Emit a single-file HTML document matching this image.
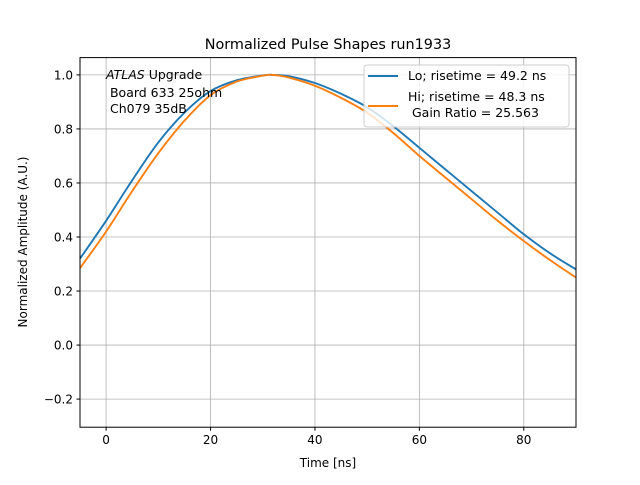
<!DOCTYPE html>
<html><head><meta charset="utf-8"><style>
body{margin:0;background:#fff}
svg{font-family:"DejaVu Sans","Liberation Sans",sans-serif}
text{white-space:pre}
</style></head><body>
<svg id="chart" width="640" height="480" viewBox="0 0 640 480">
<rect width="640" height="480" fill="#fff"/>
<text x="328" y="49" font-size="14.4" text-anchor="middle">Normalized Pulse Shapes run1933</text>
<g id="grid"></g>
<g id="ticks"></g>
<g id="series"></g>
<rect x="80" y="57.6" width="496" height="369.6" fill="none" stroke="#000" stroke-width="1"/>
<text x="328" y="467" font-size="12" text-anchor="middle">Time [ns]</text>
<text transform="translate(27,242) rotate(-90)" font-size="12" text-anchor="middle">Normalized Amplitude (A.U.)</text>
<g font-size="12.5">
<text x="106" y="79" xml:space="preserve"><tspan font-style="italic">ATLAS</tspan> Upgrade</text>
<text x="106" y="97" xml:space="preserve"> Board 633 25ohm</text>
<text x="106" y="113" xml:space="preserve"> Ch079 35dB</text>
</g>
<g>
<rect x="364" y="65" width="205" height="62" rx="3" fill="#fff" fill-opacity="0.8" stroke="#ccc"/>
<line x1="368" y1="76" x2="398" y2="76" stroke="#1f77b4" stroke-width="2"/>
<text x="408" y="80" font-size="12.5">Lo; risetime = 49.2 ns</text>
<line x1="368" y1="106" x2="398" y2="106" stroke="#ff7f0e" stroke-width="2"/>
<text x="408" y="101" font-size="12.5">Hi; risetime = 48.3 ns</text>
<text x="408" y="117" font-size="12.5" xml:space="preserve"> Gain Ratio = 25.563</text>
</g>
</svg>
<script>
const timeNs=[-5,0,5,10,15,20,25,30,32,35,40,45,50,55,60,65,70,75,80,85,90];
const loValues=[0.32,0.46,0.61,0.75,0.86,0.94,0.98,0.998,1.0,0.995,0.97,0.93,0.88,0.81,0.73,0.65,0.57,0.49,0.41,0.34,0.28];
const hiValues=[0.285,0.42,0.57,0.71,0.83,0.925,0.975,0.997,1.0,0.99,0.96,0.915,0.86,0.785,0.70,0.62,0.54,0.46,0.385,0.315,0.25];
const xTicks=[0,20,40,60,80];
const yTicks=[-0.2,0.0,0.2,0.4,0.6,0.8,1.0];
const yTickLabels=["\u22120.2","0.0","0.2","0.4","0.6","0.8","1.0"];
const X0=80,X1=576,Y0=57.6,Y1=427.2,xmin=-5,xmax=90,ymin=-0.304,ymax=1.064;
const sx=v=>X0+(v-xmin)/(xmax-xmin)*(X1-X0);
const sy=v=>Y1-(v-ymin)/(ymax-ymin)*(Y1-Y0);
const NS="http://www.w3.org/2000/svg";
const grid=document.getElementById('grid'),ticks=document.getElementById('ticks'),series=document.getElementById('series');
function mk(tag,attrs,parent){const e=document.createElementNS(NS,tag);for(const k in attrs)e.setAttribute(k,attrs[k]);parent.appendChild(e);return e;}
xTicks.forEach(t=>{
 const g=mk('line',{x1:sx(t),x2:sx(t),y1:Y0,y2:Y1,stroke:'#b0b0b0','stroke-width':0.8},grid);
 
 
 mk('line',{x1:sx(t),x2:sx(t),y1:Y1,y2:Y1+3.5,stroke:'#000'},ticks);
 const l=mk('text',{x:sx(t),y:Y1+17,'font-size':12,'text-anchor':'middle'},ticks);
 l.textContent=t;
 
 
});
yTicks.forEach((t,i)=>{
 const g=mk('line',{x1:X0,x2:X1,y1:sy(t),y2:sy(t),stroke:'#b0b0b0','stroke-width':0.8},grid);
 
 
 mk('line',{x1:X0-3.5,x2:X0,y1:sy(t),y2:sy(t),stroke:'#000'},ticks);
 const l=mk('text',{x:X0-7,y:sy(t)+4.5,'font-size':12,'text-anchor':'end'},ticks);
 l.textContent=yTickLabels[i];
 
 
});
function line(vals,color,name){
 const P=timeNs.map((t,i)=>[sx(t),sy(vals[i])]);
 let d='M'+P[0][0].toFixed(1)+','+P[0][1].toFixed(1);
 for(let i=0;i<P.length-1;i++){
  const p0=P[Math.max(0,i-1)],p1=P[i],p2=P[i+1],p3=P[Math.min(P.length-1,i+2)];
  const c1=[p1[0]+(p2[0]-p0[0])/6,p1[1]+(p2[1]-p0[1])/6];
  const c2=[p2[0]-(p3[0]-p1[0])/6,p2[1]-(p3[1]-p1[1])/6];
  d+=' C'+c1.map(v=>v.toFixed(1)).join(',')+' '+c2.map(v=>v.toFixed(1)).join(',')+' '+p2.map(v=>v.toFixed(1)).join(',');
 }
 const p=mk('path',{d:d,fill:'none',stroke:color,'stroke-width':1.9,'stroke-linejoin':'round'},series);
 
 
}
line(loValues,'#1f77b4','lo-series-line');
line(hiValues,'#ff7f0e','hi-series-line');
</script>
</body></html>
